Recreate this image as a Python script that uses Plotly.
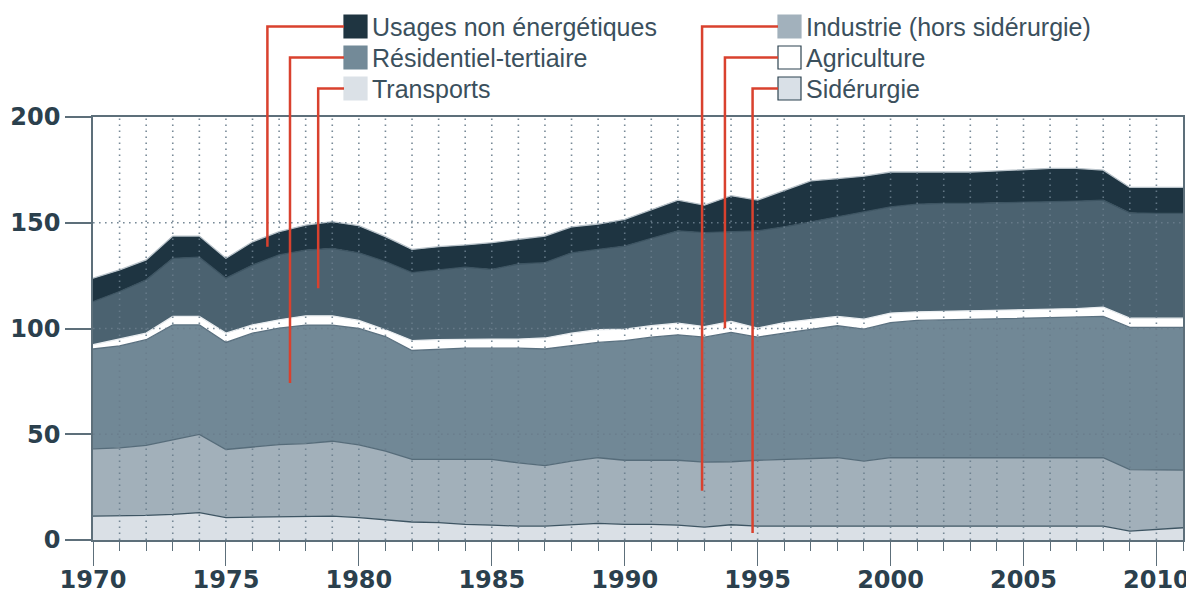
import plotly.graph_objects as go

# Mtep by sector, 1970-2011
years = list(range(1970, 2012))
siderurgie = [11.3, 11.3, 11.6, 12.1, 12.9, 10.6, 10.8, 11.0, 11.3, 11.3,
              10.6, 9.4, 8.5, 8.2, 7.4, 7.0, 6.6, 6.6, 7.4, 7.9,
              7.4, 7.4, 7.0, 6.1, 7.2, 6.6, 6.6, 6.6, 6.6, 6.6,
              6.6, 6.6, 6.6, 6.6, 6.6, 6.6, 6.6, 6.6, 6.6, 4.2,
              5.0, 5.8]
industrie = [31.8, 32.3, 33.1, 35.1, 37.0, 32.2, 33.2, 34.1, 34.3, 35.4,
             34.4, 32.6, 29.6, 29.9, 30.7, 31.1, 29.9, 28.6, 29.9, 31.0,
             30.3, 30.3, 30.7, 30.7, 29.8, 31.1, 31.5, 31.8, 32.3, 30.7,
             32.3, 32.3, 32.3, 32.3, 32.3, 32.3, 32.3, 32.3, 32.3, 29.1,
             28.0, 27.2]
residentiel = [47.2, 48.2, 50.0, 54.5, 51.8, 50.6, 53.8, 55.1, 56.0, 54.9,
               55.0, 54.2, 51.5, 52.2, 52.6, 52.6, 54.2, 55.1, 54.5, 54.5,
               56.6, 58.2, 59.3, 59.1, 61.2, 58.2, 59.7, 61.3, 62.4, 62.4,
               63.9, 64.9, 65.2, 65.5, 65.6, 66.0, 66.2, 66.5, 66.8, 67.2,
               67.5, 67.5]
agriculture = [2.0, 3.2, 3.1, 4.0, 4.0, 4.4, 3.9, 3.9, 4.4, 4.4,
               3.8, 3.2, 4.7, 4.4, 4.3, 4.3, 4.3, 5.2, 6.0, 6.0,
               5.4, 5.4, 5.5, 5.0, 5.1, 4.3, 5.0, 4.7, 4.4, 4.7,
               4.5, 4.1, 4.0, 3.9, 4.0, 3.9, 4.1, 4.0, 4.4, 4.4,
               4.4, 4.4]
transports = [20.4, 22.5, 25.2, 27.5, 28.0, 26.0, 28.3, 30.7, 31.1, 31.9,
              32.0, 32.2, 32.1, 33.0, 34.0, 33.0, 35.5, 35.6, 38.0, 38.0,
              39.3, 41.3, 43.7, 44.4, 42.3, 46.0, 45.3, 46.1, 47.1, 50.8,
              50.2, 50.9, 51.1, 50.9, 50.9, 51.0, 50.6, 50.8, 50.6, 49.8,
              49.5, 49.5]
usages = [11.1, 10.2, 9.4, 10.5, 10.0, 9.4, 11.0, 11.0, 11.8, 12.6,
          12.8, 11.8, 11.0, 11.0, 10.5, 12.6, 11.7, 12.6, 12.3, 12.0,
          12.6, 13.7, 14.5, 13.0, 17.2, 14.5, 17.0, 19.3, 18.1, 16.8,
          16.5, 15.2, 14.8, 14.8, 15.1, 15.4, 15.9, 15.5, 14.2, 12.0,
          12.3, 12.3]

y_ticks = [0, 50, 100, 150, 200]
x_ticks = [1970, 1975, 1980, 1985, 1990, 1995, 2000, 2005, 2010]

# legend entries: label, swatch colour, column, row, leader target (year, value)
legend_items = [
    ("Usages non énergétiques", "#1f3541", 0, 0, (1976.56, 138.7)),
    ("Résidentiel-tertiaire", "#738a98", 0, 1, (1977.41, 74.2)),
    ("Transports", "#dbe1e7", 0, 2, (1978.47, 119.0)),
    ("Industrie (hors sidérurgie)", "#a2b1bc", 1, 0, (1992.91, 23.3)),
    ("Agriculture", "#ffffff", 1, 1, (1993.77, 100.1)),
    ("Sidérurgie", "#d9e0e7", 1, 2, (1994.81, 3.3)),
]

# the page body adds an 8px margin, so the figure is drawn 8px in from the corner
OFF = 8
W, H = 1194 - OFF, 592 - OFF
L, R, T, B = 93 - OFF, 11, 117 - OFF, 52
pw, ph = W - L - R, H - T - B
x_min, x_max = 1970, 2011
y_min, y_max = 0, 200


def px(x):  # page pixel -> paper x
    return (x - OFF - L) / pw


def py(y):  # page pixel from top -> paper y
    return (H - B - (y - OFF)) / ph


def yr2paper(yr):
    return (yr - x_min) / (x_max - x_min)


def val2paper(v):
    return (v - y_min) / (y_max - y_min)


fig = go.Figure()
layers = [
    ("Sidérurgie", siderurgie, "#dae0e6", "#3e5563"),
    ("Industrie (hors sidérurgie)", industrie, "#a2b0ba", "#566c7a"),
    ("Résidentiel-tertiaire", residentiel, "#718896", "#5b7180"),
    ("Agriculture", agriculture, "#ffffff", "#e9edf0"),
    ("Transports", transports, "#4b6270", "#3d5462"),
    ("Usages non énergétiques", usages, "#1e3441", "#b9c3ca"),
]
for name, vals, fill, edge in layers:
    fig.add_trace(go.Scatter(x=years, y=vals, name=name, stackgroup="one",
                             mode="lines", fillcolor=fill,
                             line=dict(color=edge, width=1.3)))

shapes = []
dot = dict(color="rgba(105,125,140,0.9)", width=1.6, dash="1.6px,4.4px")
for yr in years[1:-1]:
    shapes.append(dict(type="line", xref="x", yref="paper", x0=yr, x1=yr,
                       y0=0, y1=1, line=dot, layer="above"))
for v in y_ticks[1:-1]:
    shapes.append(dict(type="line", xref="paper", yref="y", x0=0, x1=1,
                       y0=v, y1=v, line=dot, layer="above"))

annotations = []
red = dict(color="#d9412e", width=2.5)
col_x = [344, 778]
row_y = [15, 46, 77]
sw = 23
for label, color, col, row, (tyr, tval) in legend_items:
    x0, y0 = col_x[col], row_y[row]
    border = "#2d4350" if color in ("#ffffff", "#d9e0e7") else color
    shapes.append(dict(type="rect", xref="paper", yref="paper",
                       x0=px(x0), x1=px(x0 + sw), y0=py(y0), y1=py(y0 + sw),
                       fillcolor=color, line=dict(color=border, width=1.2)))
    cy = py(y0 + sw / 2)
    lx = yr2paper(tyr)
    shapes.append(dict(type="path", xref="paper", yref="paper", layer="above",
                       path=f"M {px(x0)} {cy} L {lx} {cy} L {lx} {val2paper(tval)}",
                       line=red))
    annotations.append(dict(xref="paper", yref="paper", x=px(x0 + sw + 3), y=cy,
                            xanchor="left", yanchor="middle", showarrow=False,
                            text=label,
                            font=dict(family="Liberation Sans", size=25,
                                      color="#3b505d")))

axis_col = "#5d6f7a"
tickfont = dict(family="DejaVu Sans", size=24, color="#2b404d", weight="bold")
fig.update_layout(
    width=W, height=H,
    margin=dict(l=L, r=R, t=T, b=B),
    paper_bgcolor="white", plot_bgcolor="white",
    showlegend=False,
    shapes=shapes, annotations=annotations,
    xaxis=dict(range=[x_min, x_max], tickvals=x_ticks, showgrid=False,
               zeroline=False, showline=True, mirror=True, linecolor=axis_col,
               linewidth=1.5, ticks="outside", ticklen=24, tickcolor=axis_col,
               tickwidth=1, tickfont=tickfont, automargin=False,
               ticklabelstandoff=-7,
               minor=dict(dtick=1, tick0=1970, ticks="outside", ticklen=9,
                          tickcolor=axis_col, tickwidth=1)),
    yaxis=dict(range=[y_min, y_max], tickvals=y_ticks, showgrid=False,
               zeroline=False, showline=True, mirror=True, linecolor=axis_col,
               linewidth=1.5, ticks="outside", ticklen=26, tickcolor=axis_col,
               tickwidth=1.5, tickfont=tickfont, automargin=False),
)

fig.write_html("out.html")
